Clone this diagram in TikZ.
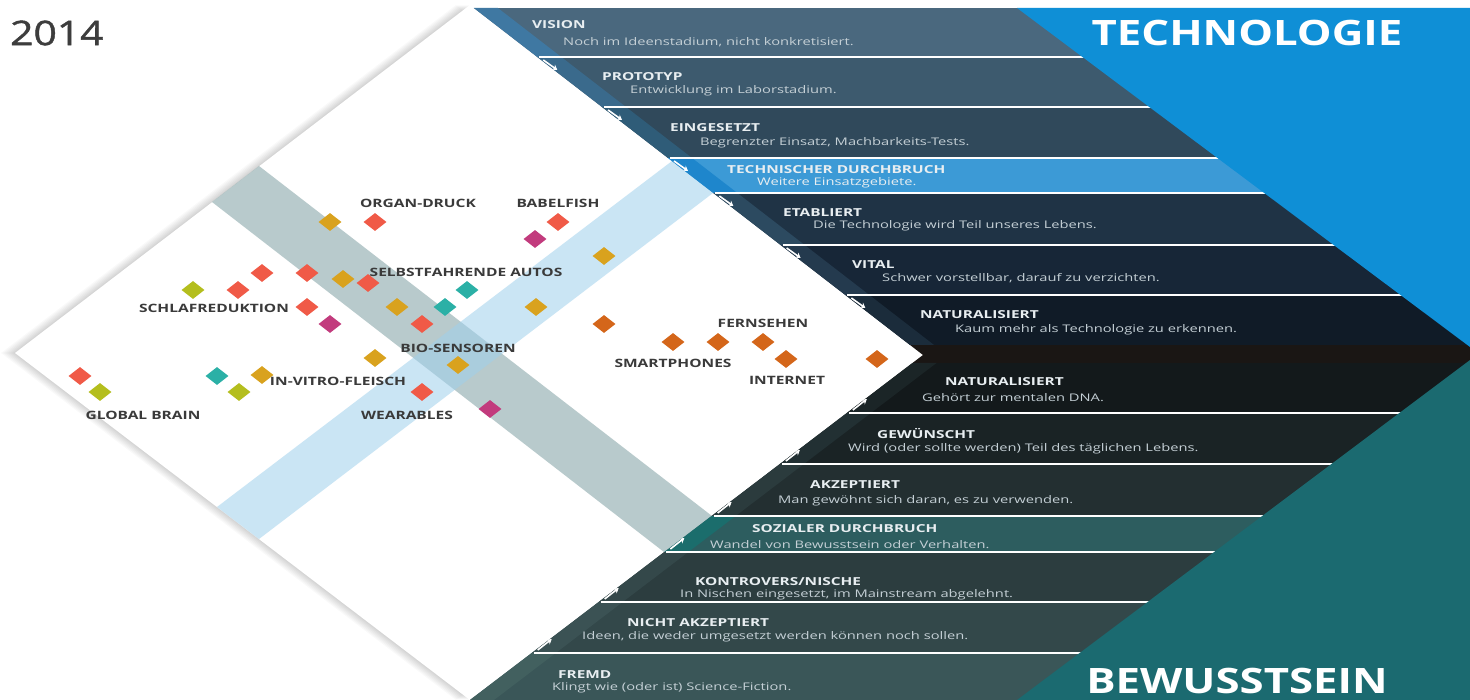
\documentclass[tikz,border=0pt]{standalone}
\usepackage{fontspec}
\setmainfont{Open Sans}[FakeStretch=1.25]
\newfontfamily\bandfont{Open Sans}[FakeStretch=1.4]
\newfontfamily\lblfont{Open Sans}[FakeStretch=1.35]
\newfontfamily\yearfont{Open Sans}[FakeStretch=1.2,FakeBold=1.2]
\usetikzlibrary{shapes.geometric,arrows.meta}

\definecolor{tA}{HTML}{4A687E}
\definecolor{tB}{HTML}{3D5A6E}
\definecolor{tC}{HTML}{30495B}
\definecolor{tD}{HTML}{3C9AD6}
\definecolor{tE}{HTML}{1F3345}
\definecolor{tF}{HTML}{172637}
\definecolor{tG}{HTML}{101B27}
\definecolor{sA}{HTML}{3F78A2}
\definecolor{sB}{HTML}{3A6A8C}
\definecolor{sC}{HTML}{2F5C78}
\definecolor{sD}{HTML}{1E86CC}
\definecolor{sE}{HTML}{2C4A60}
\definecolor{sF}{HTML}{243A4E}
\definecolor{sG}{HTML}{1B2C3B}
\definecolor{midstrip}{HTML}{1A1614}
\definecolor{bA}{HTML}{13191B}
\definecolor{bB}{HTML}{1A2325}
\definecolor{bC}{HTML}{232F31}
\definecolor{bD}{HTML}{2D5D5F}
\definecolor{bE}{HTML}{2C3D3F}
\definecolor{bF}{HTML}{33484A}
\definecolor{bG}{HTML}{3A5658}
\definecolor{rA}{HTML}{1B2527}
\definecolor{rB}{HTML}{223033}
\definecolor{rC}{HTML}{2B3B3D}
\definecolor{rD}{HTML}{1B6D6C}
\definecolor{rE}{HTML}{34484A}
\definecolor{rF}{HTML}{3B5254}
\definecolor{rG}{HTML}{42605F}
\definecolor{techblue}{HTML}{0F8FD6}
\definecolor{bewteal}{HTML}{1B6A70}
\definecolor{grayband}{HTML}{8AA8AA}
\definecolor{blueband}{HTML}{9FD0EC}
\definecolor{ttlcol}{HTML}{E8EEF1}
\definecolor{dsccol}{HTML}{C5D0D6}
\definecolor{lblgray}{HTML}{3A3A3A}
\definecolor{yeargray}{HTML}{3D3D3D}
\definecolor{coral}{HTML}{F05A47}
\definecolor{mustard}{HTML}{D9A21E}
\definecolor{lime}{HTML}{B4BE1E}
\definecolor{tealmk}{HTML}{2BB0A6}
\definecolor{magentamk}{HTML}{C23B7D}
\definecolor{orangemk}{HTML}{D4661A}

\begin{document}
\begin{tikzpicture}[x=1pt,y=-1pt,
    mk/.style={diamond,minimum width=23pt,minimum height=18pt,inner sep=0pt,fill=#1},
    lbl/.style={font=\lblfont\fontsize{11.5}{13}\selectfont\bfseries,text=lblgray,inner sep=0pt},
    ttl/.style={font=\bandfont\fontsize{11}{13}\selectfont\bfseries,text=ttlcol,anchor=west,inner sep=0pt},
    dsc/.style={font=\bandfont\fontsize{10.5}{12}\selectfont,text=dsccol,anchor=west,inner sep=0pt},
    sep/.style={white,line width=2pt},
    hint/.style={white,line width=1.6pt,-{Stealth[length=5pt,width=6pt]}},
    big/.style={font=\fontsize{35}{40}\selectfont\bfseries,text=white,inner sep=0pt}]
    \useasboundingbox (0,0) rectangle (1470,700);
    \fill[white] (0,0) rectangle (1470,700);
    % diamond with soft shadow
    \foreach \s in {2,4,...,14}
        \fill[black,opacity=.025] (470-\s,5) -- (15-\s,353) -- (470-\s,700) -- (923-\s,355) -- cycle;
    \fill[white] (470,5) -- (15,353) -- (470,700) -- (923,355) -- cycle;
    \fill[grayband,opacity=.6] (259,166) -- (712,516) -- (664,552) -- (212,202) -- cycle;
    \fill[blueband,opacity=.55] (676,158) -- (713,193) -- (259,539) -- (217,507) -- cycle;
    % bands
    \begin{scope}
        \clip (470,5) -- (1470,5) -- (1470,700) -- (470,700) -- (923,355) -- cycle;
        \foreach \ya/\yb/\col in {8/57/tA,57/107/tB,107/158/tC,158/193/tD,193/245/tE,245/295/tF,295/345/tG,
                                  363/413/bA,413/464/bB,464/516/bC,516/552/bD,552/602/bE,602/653/bF,653/700/bG}
            \fill[\col] (400,\ya) rectangle (1470,\yb);
        \fill[midstrip] (400,345) rectangle (1470,363);
        \foreach \ya/\yb/\col in {8/57/sA,57/107/sB,107/158/sC,158/193/sD,193/245/sE,245/295/sF,295/345/sG} {
            \pgfmathsetmacro\xa{470+(\ya-5)*1.2943}
            \pgfmathsetmacro\xb{470+(\yb-5)*1.2943}
            \fill[\col] (\xa,\ya) -- (\xa+24,\ya) -- (\xb+24,\yb) -- (\xb,\yb) -- cycle;
        }
        \foreach \ya/\yb/\col in {363/413/rA,413/464/rB,464/516/rC,516/552/rD,552/602/rE,602/653/rF,653/700/rG} {
            \pgfmathsetmacro\xa{923-(\ya-355)*1.313}
            \pgfmathsetmacro\xb{923-(\yb-355)*1.313}
            \fill[\col] (\xa,\ya) -- (\xa+24,\ya) -- (\xb+24,\yb) -- (\xb,\yb) -- cycle;
        }
        \foreach \y in {57,107,158,193,245,295} {
            \pgfmathsetmacro\xa{470+(\y-5)*1.2943}
            \draw[sep] (\xa+2,\y) -- (1470,\y);
            \draw[hint] (\xa+6,\y+3) -- ++(14,10);
        }
        \foreach \y in {413,464,516,552,602,653} {
            \pgfmathsetmacro\xa{923-(\y-355)*1.313}
            \draw[sep] (\xa+2,\y) -- (1470,\y);
            \draw[hint] (\xa+6,\y-3) -- ++(14,-11);
        }
    \end{scope}
    \fill[techblue] (1017,8) -- (1470,8) -- (1470,347) -- cycle;
    \fill[bewteal] (1470,360) -- (1470,700) -- (1017,700) -- cycle;
    \node[big] (tech) at (1247,33) {TECHNOLOGIE};
    \node[big] (bew) at (1237,681) {BEWUSSTSEIN};
    \node[font=\yearfont\fontsize{34}{40}\selectfont,text=yeargray,anchor=west,inner sep=0pt] (year) at (10,33) {2014};
    % technology stages
    \node[ttl] (vision) at (532,25) {VISION};
    \node[dsc] (visionD) at (563,42) {Noch im Ideenstadium, nicht konkretisiert.};
    \node[ttl] (proto) at (602,77) {PROTOTYP};
    \node[dsc] (protoD) at (630,91) {Entwicklung im Laborstadium.};
    \node[ttl] (einges) at (670,128) {EINGESETZT};
    \node[dsc] (eingesD) at (700,143) {Begrenzter Einsatz, Machbarkeits-Tests.};
    \node[ttl] (techdb) at (727,170) {TECHNISCHER DURCHBRUCH};
    \node[dsc,text=ttlcol] (techdbD) at (757,183) {Weitere Einsatzgebiete.};
    \node[ttl] (etab) at (783,213) {ETABLIERT};
    \node[dsc] (etabD) at (813,226) {Die Technologie wird Teil unseres Lebens.};
    \node[ttl] (vital) at (852,265) {VITAL};
    \node[dsc] (vitalD) at (882,278) {Schwer vorstellbar, darauf zu verzichten.};
    \node[ttl] (natT) at (920,315) {NATURALISIERT};
    \node[dsc] (natTD) at (955,330) {Kaum mehr als Technologie zu erkennen.};
    % awareness stages
    \node[ttl] (natB) at (945,382) {NATURALISIERT};
    \node[dsc] (natBD) at (922,398) {Gehört zur mentalen DNA.};
    \node[ttl] (gew) at (877,434) {GEWÜNSCHT};
    \node[dsc] (gewD) at (848,449) {Wird (oder sollte werden) Teil des täglichen Lebens.};
    \node[ttl] (akz) at (810,485) {AKZEPTIERT};
    \node[dsc] (akzD) at (778,501) {Man gewöhnt sich daran, es zu verwenden.};
    \node[ttl] (sozdb) at (752,529) {SOZIALER DURCHBRUCH};
    \node[dsc] (sozdbD) at (710,545) {Wandel von Bewusstsein oder Verhalten.};
    \node[ttl] (kontro) at (695,582) {KONTROVERS/NISCHE};
    \node[dsc] (kontroD) at (680,595) {In Nischen eingesetzt, im Mainstream abgelehnt.};
    \node[ttl] (nichtakz) at (627,623) {NICHT AKZEPTIERT};
    \node[dsc] (nichtakzD) at (582,637) {Ideen, die weder umgesetzt werden können noch sollen.};
    \node[ttl] (fremd) at (558,675) {FREMD};
    \node[dsc] (fremdD) at (552,688) {Klingt wie (oder ist) Science-Fiction.};
    % markers
    \foreach \x/\y/\c [count=\i] in {330/222/mustard,375/222/coral,558/222/coral,535/239/magentamk,
            604/256/mustard,193/290/lime,238/290/coral,262/273/coral,307/273/coral,343/279/mustard,
            368/283/coral,467/290/tealmk,307/307/coral,397/307/mustard,445/307/tealmk,536/307/mustard,
            330/324/magentamk,422/324/coral,604/324/orangemk,673/342/orangemk,718/342/orangemk,
            763/342/orangemk,786/359/orangemk,877/359/orangemk,375/358/mustard,458/365/mustard,
            80/376/coral,100/392/lime,217/376/tealmk,262/375/mustard,239/392/lime,422/392/coral,
            490/409/magentamk}
        \node[mk=\c] (m\i) at (\x,\y) {};
    % topic labels
    \node[lbl] (organ) at (418,203) {ORGAN-DRUCK};
    \node[lbl] (babel) at (558,203) {BABELFISH};
    \node[lbl] (autos) at (466,272) {SELBSTFAHRENDE AUTOS};
    \node[lbl] (schlaf) at (214,308) {SCHLAFREDUKTION};
    \node[lbl] (bio) at (458,348) {BIO-SENSOREN};
    \node[lbl] (vitro) at (338,381) {IN-VITRO-FLEISCH};
    \node[lbl] (brain) at (143,415) {GLOBAL BRAIN};
    \node[lbl] (wear) at (407,415) {WEARABLES};
    \node[lbl] (fern) at (763,323) {FERNSEHEN};
    \node[lbl] (smart) at (673,363) {SMARTPHONES};
    \node[lbl] (inet) at (787,380) {INTERNET};
\end{tikzpicture}
\end{document}
